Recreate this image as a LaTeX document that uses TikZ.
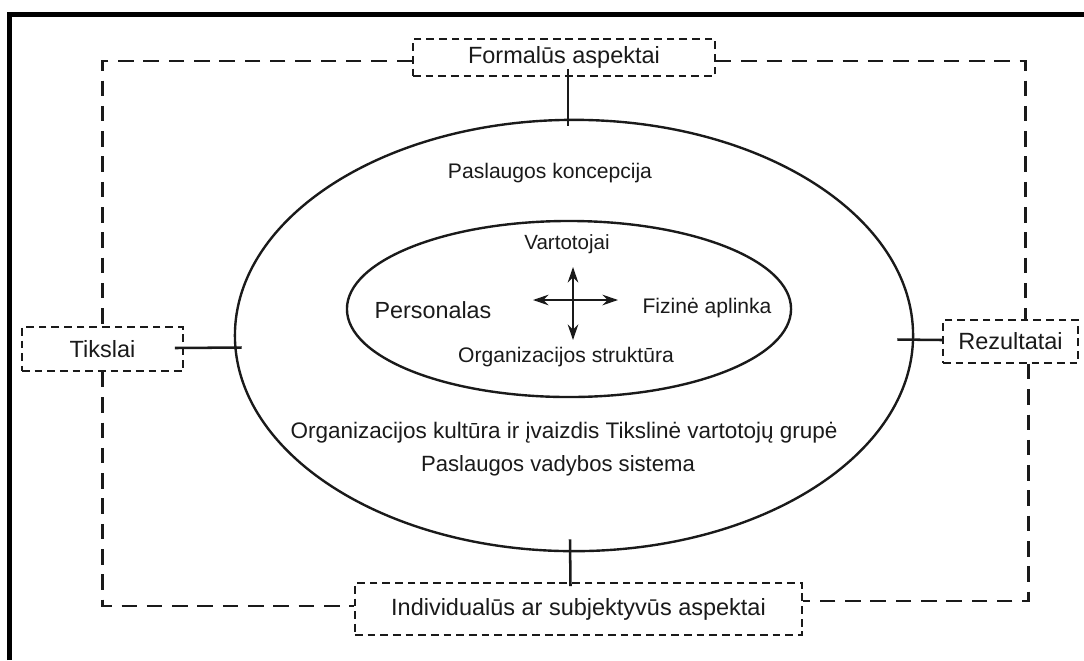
\documentclass[tikz,border=0pt]{standalone}
\usepackage{fontspec}
\setmainfont{Liberation Sans}
\usetikzlibrary{shapes.geometric,arrows.meta,calc}

\definecolor{ink}{HTML}{1A1A1A}

\tikzset{
  frameline/.style={line width=3pt, black},
  aspectbox/.style={draw=ink, line width=1.3pt, dash pattern=on 5.5pt off 3.5pt,
    inner sep=0pt, text=ink, font=\fontsize{16.7}{20}\selectfont},
  loopline/.style={draw=ink, line width=1.6pt, dash pattern=on 11pt off 7pt},
  link/.style={draw=ink, line width=1.8pt},
  ring/.style={ellipse, draw=ink, line width=1.7pt, inner sep=0pt},
  label/.style={text=ink, inner sep=0pt},
  twoway/.style={draw=ink, line width=1.4pt, {Stealth[length=11pt,width=7.5pt]}-{Stealth[length=11pt,width=7.5pt]}}
}

\begin{document}
\begin{tikzpicture}[x=0.025cm, y=-0.025cm]
  \useasboundingbox (0,0) rectangle (1084,660);

  % page frame (top and left edges)
  \coordinate (fbl) at (9.5,660);
  \coordinate (ftl) at (9.5,14.5);
  \coordinate (ftr) at (1084,14.5);
  \draw[frameline] (fbl) -- (ftl) -- (ftr);

  % the two rings
  \node[ring, minimum width=16.95cm, minimum height=10.78cm] (outer) at (574,335.5) {};
  \node[ring, minimum width=11.1cm, minimum height=4.4cm] (inner) at (569,309) {};

  % surrounding aspects
  \node[aspectbox, minimum width=7.55cm, minimum height=0.925cm] (form) at (564,57.5) {Formalūs aspektai};
  \node[aspectbox, minimum width=4.025cm, minimum height=1.1cm] (tik) at (102.5,349) {Tikslai};
  \node[aspectbox, minimum width=3.375cm, minimum height=1.075cm] (rez) at (1010.5,341.5) {Rezultatai};
  \node[aspectbox, minimum width=11.175cm, minimum height=1.3cm] (ind) at (578.5,609) {Individualūs ar subjektyvūs aspektai};

  % dashed loop joining the aspects
  \draw[loopline] ($(form.west)+(0,3.5)$) -| (tik.north);
  \draw[loopline] (tik.south) |- ($(ind.west)+(0,-3)$);
  \draw[loopline] ($(form.east)+(0,3.5)$) -| ($(rez.north)+(15,0)$);
  \draw[loopline] ($(rez.south)+(18,0)$) |- ($(ind.east)+(0,-8)$);

  % solid ties to the outer ring
  \draw[link] ($(form.south)+(4,-8)$) -- ($(outer.north)+(-6,7)$);
  \draw[link] ($(ind.north)+(-8,4)$) -- ($(outer.south)+(-4,-13)$);
  \draw[link] ($(tik.east)+(-9,-1)$) -- ($(outer.west)+(8,12)$);
  \draw[link] ($(rez.west)+(0,-1.5)$) -- ($(outer.east)+(-17,4)$);

  % outer ring texts
  \node[label, font=\fontsize{15}{18}\selectfont] (konc) at (550,173) {Paslaugos koncepcija};
  \node[label, font=\fontsize{16}{19}\selectfont] (kult) at (564,433) {Organizacijos kultūra ir įvaizdis Tikslinė vartotojų grupė};
  \node[label, font=\fontsize{15.7}{19}\selectfont] (vad) at (558,466) {Paslaugos vadybos sistema};

  % inner ring texts
  \node[label, font=\fontsize{14.6}{18}\selectfont] (vart) at (567,244) {Vartotojai};
  \node[label, font=\fontsize{16.6}{20}\selectfont] (pers) at (433,310) {Personalas};
  \node[label, font=\fontsize{15}{18}\selectfont] (fiz) at (707,308) {Fizinė aplinka};
  \node[label, font=\fontsize{15}{18}\selectfont] (strukt) at (566,357) {Organizacijos struktūra};

  % cross of two-way arrows
  \coordinate (hw) at (533,300);
  \coordinate (he) at (618,300);
  \coordinate (hn) at (573,267);
  \coordinate (hs) at (573,340);
  \draw[twoway] (hw) -- (he);
  \draw[twoway] (hn) -- (hs);
\end{tikzpicture}
\end{document}
